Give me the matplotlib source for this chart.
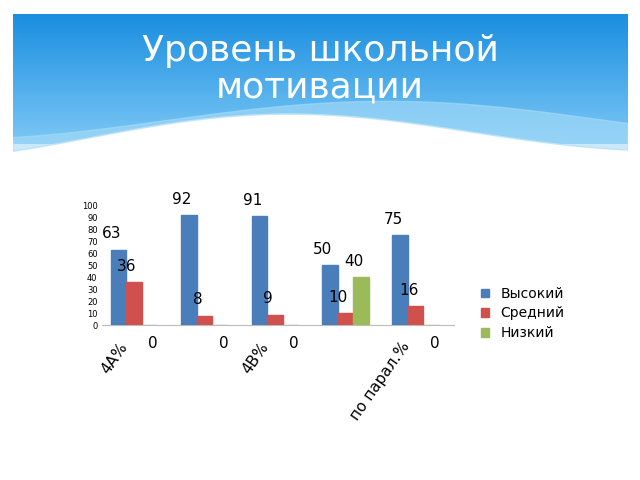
import matplotlib
matplotlib.use("Agg")
import matplotlib.pyplot as plt
import numpy as np
from matplotlib.colors import LinearSegmentedColormap

categories = ["4А%", "", "4В%", "", "по парал.%"]
high = [63, 92, 91, 50, 75]
mid = [36, 8, 9, 10, 16]
low = [0, 0, 0, 40, 0]
series_names = ["Высокий", "Средний", "Низкий"]
colors = ["#4a7ebb", "#d0504d", "#9bbb59"]

fig = plt.figure(figsize=(6.4, 4.8), dpi=100)
hax = fig.add_axes([0.02, 0, 0.96, 1])
hax.set_xlim(0, 1); hax.set_ylim(0, 1); hax.axis("off")
grad = np.linspace(0, 1, 256).reshape(-1, 1)
cm = LinearSegmentedColormap.from_list("g", ["#1a8ee0", "#7cc8f5"])
hax.imshow(grad, extent=[0, 1, 0.70, 0.97], aspect="auto", cmap=cm, zorder=0)
xs = np.linspace(0, 1, 200)
wave = 0.72 + 0.05 * np.sin((xs - 0.15) * np.pi * 1.6) * (1 - xs * 0.3)
hax.fill_between(xs, 0.69, wave, color="white", zorder=1)
wave2 = 0.75 + 0.04 * np.sin((xs - 0.25) * np.pi * 1.4)
hax.fill_between(xs, wave, np.maximum(wave, wave2), color="#a8dcf8", alpha=0.6, zorder=1)
fig.text(0.5, 0.855, "Уровень школьной\nмотивации", ha="center", va="center",
         color="white", fontsize=26, linespacing=1.1)

ax = fig.add_axes([0.16, 0.322, 0.55, 0.25])
x = np.arange(len(categories))
w = 0.22
for i, (vals, c, n) in enumerate(zip([high, mid, low], colors, series_names)):
    pos = x + (i - 1) * w
    ax.bar(pos, vals, width=w, color=c, edgecolor=c, label=n, zorder=3)
    for p, v in zip(pos, vals):
        if v == 0:
            ax.text(p + 0.05, -15, "0", ha="center", va="center", fontsize=11, clip_on=False)
        else:
            ax.text(p - 0.1, v + 7, str(v), ha="center", va="bottom", fontsize=11)
ax.set_ylim(0, 100)
ax.set_xlim(-0.45, len(categories) - 0.45)
ax.set_yticks(range(0, 101, 10))
ax.tick_params(axis="y", labelsize=6, length=0)
ax.set_xticks(x - w)
ax.set_xticklabels(categories, rotation=55, ha="right", rotation_mode="anchor", fontsize=11)
ax.tick_params(axis="x", length=0, pad=10)
for s in ["top", "right", "left"]:
    ax.spines[s].set_visible(False)
ax.spines["bottom"].set_color("#bbbbbb")
ax.legend(loc="center left", bbox_to_anchor=(1.04, 0.1), frameon=False, fontsize=10,
          handlelength=0.6, handleheight=0.6, labelspacing=0.4)
fig.savefig("out.png", dpi=100)
